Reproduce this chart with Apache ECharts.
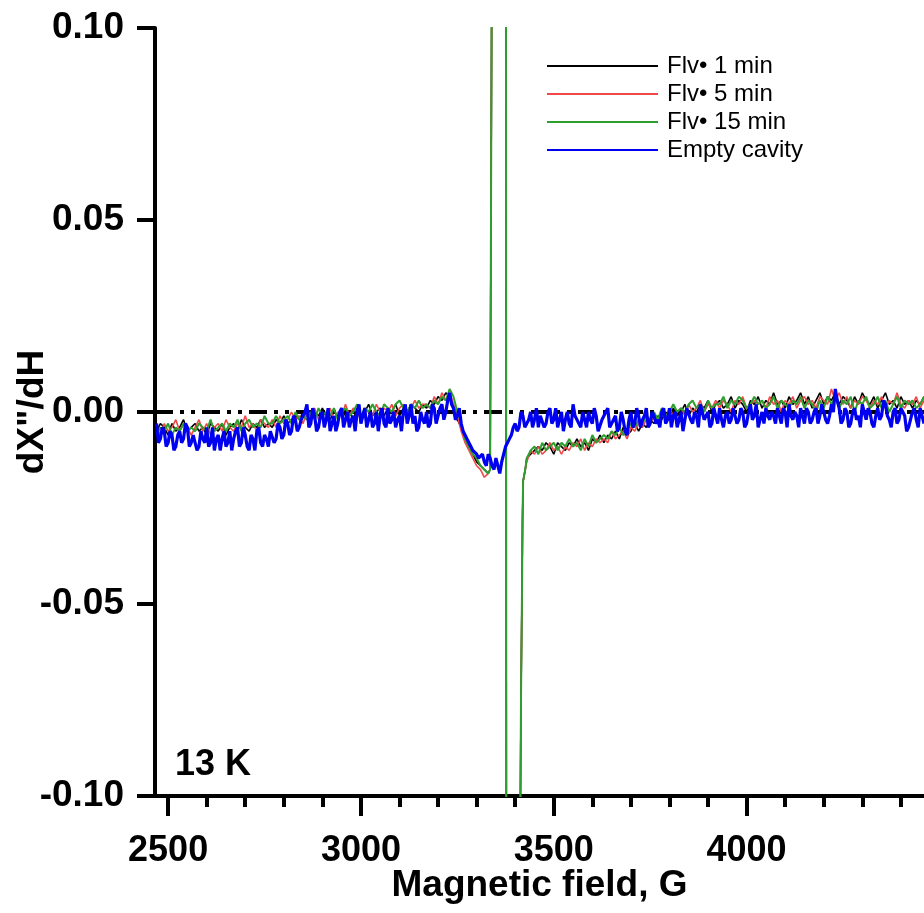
<!DOCTYPE html>
<html><head><meta charset="utf-8">
<script src="https://cdn.jsdelivr.net/npm/echarts@6/dist/echarts.min.js"></script>
<style>html,body{margin:0;padding:0;background:#fff}#c{width:924px;height:913px}</style>
</head><body><div id="c"></div>
<script>
// ---- data (values in units of 1e-3) ----
const FIELD_START = 2470, FIELD_STEP = 10;      // sampling grid of the full sweep (G)
const FIELD_MID_START = 2475;                   // half-step samples of the empty-cavity trace
const FLV_LEFT_START = 2470, FLV_RIGHT_START = 3430;

const blueMilli = [
 -3,-7,-5,-8,-6,-9,-5,-7,-4,-8,
 -6,-9,-7,-4,-8,-10,-6,-7,-9,-5,
 -7,-4,-8,-6,-10,-7,-5,-8,-6,-9,
 -5,-7,-4,-6,-3,-5,-2,-4,-1,2,
 -3,-1,-4,0,-2,-5,-1,-3,1,-2,
 -4,-1,0,-3,1,-2,-4,0,-1,-3,
 1,-2,-4,-1,0,-3,2,-1,-4,-2,
 0,-3,1,-1,2,0,5,1,-1,-3,
 -6,-8,-10,-11,-12,-13,-11,-14,-12,-16,
 -11,-8,-6,-3,-4,-1,-3,0,-2,-4,
 -1,-3,1,-2,-4,0,-2,-3,2,-1,
 -4,-2,0,-3,-1,-5,-2,1,-3,-1,
 -4,-2,-6,0,-3,-1,-2,1,-3,-1,
 -2,0,-3,1,-1,-4,0,-2,1,-3,
 -1,2,-2,0,-3,-1,1,-4,0,-2,
 1,-2,0,-3,2,-1,-4,0,1,-2,
 -1,1,-3,0,2,-2,-1,1,-3,0,
 -2,1,-1,0,-3,2,6,1,-2,0,
 -3,1,-1,2,-2,0,-4,1,-1,2,
 -2,0,-3,1,-1,-4,0,-2,1,-3
];
const blueMidMilli = [
 -8,-4,-9,-5,-10,-6,-8,-3,-9,-6,
 -10,-5,-8,-9,-4,-7,-10,-5,-8,-10,
 -5,-9,-4,-9,-6,-10,-4,-9,-7,-5,
 -8,-3,-7,-2,-6,-1,-5,-2,0,-4,
 1,-5,-1,-4,1,-3,-5,0,-4,0,
 -2,-5,2,-1,-4,0,-3,-5,1,-4,
 -3,0,-2,-5,2,-1,-3,-5,0,-3,
 -4,2,-3,1,-2,3,2,-2,1,-5,
 -7,-9,-10,-12,-11,-14,-12,-15,-14,-13,
 -9,-7,-4,-5,0,-4,-2,-4,1,-1,
 -4,0,-3,1,-2,-5,0,-4,-1,-3,
 0,-4,-2,1,-5,-2,0,-4,-2,-5,
 0,-5,-2,-4,1,-4,-1,-4,0,-3,
 -4,1,-2,-4,0,-2,-5,1,-2,0,
 -4,0,-1,-4,1,-3,-2,-1,-3,1,
 -3,1,-4,0,-2,2,-2,-3,-1,0,
 -3,-1,1,-4,-1,0,-4,-1,1,-3,
 0,-3,2,-2,-1,0,3,-3,1,-4,
 0,-2,-4,0,1,-3,-1,-2,3,-1,
 -4,1,-2,0,-5,-2,1,-4,-1
];

const blackLeftMilli = [
 -5,-3,-4,-6,-3,-5,-4,-2,-5,-4,
 -3,-5,-4,-6,-3,-4,-5,-3,-6,-4,
 -3,-5,-2,-4,-5,-3,-4,-2,-4,-3,
 -4,-2,-3,-1,-3,-2,-1,-2,0,-1,
 -2,0,-1,1,-1,-2,0,-1,1,-1,
 0,-2,1,-1,0,2,-1,0,1,-1,
 1,0,2,-1,1,0,2,1,0,2,
 1,3,2,4,3,5,4,1,-2,-4,
 -7,-9,-11,-13,-14,-15
];
const blackRightMilli = [
 -12,-11,-10,-9,-10,-8,-9,-11,-8,-9,
 -10,-8,-9,-7,-9,-8,-10,-7,-8,-6,
 -8,-6,-7,-5,-7,-4,-6,-5,-3,-5,
 -3,-4,-2,-3,-1,-2,0,-1,1,-1,
 0,2,-1,1,0,2,1,3,0,2,
 3,1,2,4,1,3,2,0,3,2,
 4,1,3,2,5,2,3,1,4,2,
 3,5,2,4,1,3,5,2,4,3,
 5,2,4,3,1,4,2,5,3,2,
 4,1,3,5,2,3,1,4,2,3,
 1,3,2,4
];

const redLeftMilli = [
 -4,-6,-3,-5,-4,-2,-5,-3,-4,-6,
 -4,-2,-5,-3,-6,-4,-3,-5,-2,-4,
 -5,-3,-4,-1,-4,-3,-5,-2,-3,-4,
 -2,-4,-1,-3,-2,0,-2,-1,-3,0,
 -1,1,-2,0,-1,1,-2,0,-1,2,
 -1,1,0,-2,1,0,-1,2,0,1,
 0,2,-1,1,2,0,1,3,1,2,
 2,1,4,2,5,3,5,2,-1,-5,
 -8,-10,-12,-14,-15,-17
];
const redRightMilli = [
 -13,-10,-11,-9,-11,-10,-8,-10,-9,-11,
 -9,-10,-8,-9,-7,-10,-8,-9,-7,-8,
 -7,-8,-5,-7,-6,-5,-7,-4,-5,-3,
 -4,-2,-3,-1,-3,0,-2,1,-1,0,
 1,-1,2,0,1,3,0,2,1,3,
 1,3,2,0,3,2,4,1,2,3,
 2,3,1,4,2,3,0,3,2,4,
 1,3,4,2,3,1,4,3,2,6,
 3,5,2,4,1,3,2,4,3,1,
 3,2,4,1,3,2,5,2,1,3,
 2,4,1,3
];

const greenLeftMilli = [
 -6,-4,-5,-3,-6,-4,-5,-3,-5,-4,
 -5,-3,-4,-5,-2,-5,-4,-3,-5,-3,
 -4,-2,-5,-3,-2,-4,-3,-4,-1,-3,
 -3,-1,-3,-2,-1,-3,0,-2,-1,-2,
 0,-2,1,-1,0,-1,1,-2,0,1,
 -1,0,2,-1,1,0,2,0,-1,2,
 1,0,2,3,1,0,2,1,3,1,
 2,1,3,2,4,3,6,4,0,-3,
 -7,-9,-11,-12,-14,-15
];
const greenRightMilli = [
 -12,-10,-9,-11,-8,-10,-9,-8,-10,-8,
 -9,-7,-9,-8,-10,-7,-9,-6,-8,-7,
 -6,-7,-5,-6,-4,-6,-5,-3,-4,-2,
 -3,-1,-2,0,-2,1,-1,0,2,0,
 1,0,2,3,1,2,0,3,1,2,
 2,4,1,3,2,4,3,1,2,4,
 2,3,1,2,4,1,3,2,1,3,
 2,4,1,3,2,0,3,1,4,2,
 4,1,3,2,4,0,3,2,4,1,
 2,4,1,3,0,2,4,1,3,2,
 3,1,2,4
];

// central resonance of the Flv samples (goes far off scale, clipped by the axis)
const flvSignalField = [3330, 3335, 3339.5, 3345, 3376, 3377, 3395, 3412.5, 3415, 3417.5, 3419, 3420.5, 3426];
const flvSignalMilli = [-16, -15, 120, 400, 120, -120, -400, -120, -75, -48, -28, -18, -15];

const seriesNames = ['Flv\u2022 1 min', 'Flv\u2022 5 min', 'Flv\u2022 15 min', 'Empty cavity'];
const seriesColors = ['#000000', '#f04848', '#2e9e2e', '#0000f0'];
const majorTicks = [2500, 3000, 3500, 4000];
const minorTicks = [2600,2700,2800,2900,3100,3200,3300,3400,3600,3700,3800,3900,4100,4200,4300,4400];
const yTicks = { min: -0.1, max: 0.1, interval: 0.05 };
const X_MIN = 2466, X_MAX = 4460;

// ---- build ----
const toVal = m => m / 1000;
function grid(start, arr) { return arr.map((v, i) => [start + i * FIELD_STEP, toVal(v)]); }
function flv(left, right) {
  return grid(FLV_LEFT_START, left)
    .concat(flvSignalField.map((x, i) => [x, toVal(flvSignalMilli[i])]))
    .concat(grid(FLV_RIGHT_START, right));
}
const blueData = grid(FIELD_START, blueMilli).concat(grid(FIELD_MID_START, blueMidMilli))
  .sort((a, b) => a[0] - b[0]);

const FONT = '"Liberation Sans", Arial, sans-serif';
const chart = echarts.init(document.getElementById('c'), null, { renderer: 'canvas' });
const lineSeries = (name, data, color, width) => ({
  name, type: 'line', data, symbol: 'none', showSymbol: false, clip: true,
  lineStyle: { color, width }, itemStyle: { color }, emphasis: { disabled: true }, animation: false
});
chart.setOption({
  animation: false,
  grid: { left: 155, right: 0, top: 28, bottom: 117, containLabel: false, outerBoundsMode: 'none' },
  legend: {
    data: seriesNames, orient: 'vertical', left: 546, top: 54, padding: 0,
    itemWidth: 111, itemHeight: 14, itemGap: 4,
    itemStyle: { opacity: 0 },
    textStyle: { fontFamily: FONT, fontSize: 24, lineHeight: 23, color: '#000', padding: [0, 0, 0, 4] }
  },
  xAxis: [{
    type: 'value', min: X_MIN, max: X_MAX,
    axisLine: { show: true, onZero: false, lineStyle: { color: '#000', width: 4 } },
    axisTick: { show: true, length: 20, customValues: majorTicks, lineStyle: { color: '#000', width: 4 } },
    axisLabel: { customValues: majorTicks, formatter: v => String(v), fontFamily: FONT, fontSize: 36, fontWeight: 'bold', color: '#000', margin: 37, verticalAlign: 'top' },
    splitLine: { show: false },
    name: 'Magnetic field, G', nameLocation: 'middle', nameGap: 71, nameMoveOverlap: false,
    nameTextStyle: { fontFamily: FONT, fontSize: 37, fontWeight: 'bold', color: '#000' }
  }, {
    type: 'value', min: X_MIN, max: X_MAX, position: 'bottom',
    axisLine: { show: false, onZero: false },
    axisTick: { show: true, length: 11, customValues: minorTicks, lineStyle: { color: '#000', width: 4 } },
    axisLabel: { show: false }, splitLine: { show: false }
  }],
  yAxis: {
    type: 'value', min: yTicks.min, max: yTicks.max, interval: yTicks.interval,
    axisLine: { show: true, onZero: false, lineStyle: { color: '#000', width: 4 } },
    axisTick: { show: true, length: 18, lineStyle: { color: '#000', width: 4 } },
    axisLabel: { formatter: v => v.toFixed(2), fontFamily: FONT, fontSize: 37, fontWeight: 'bold', color: '#000', margin: 31 },
    splitLine: { show: false },
    name: 'dX"/dH', nameLocation: 'middle', nameGap: 104, nameRotate: 90, nameMoveOverlap: false,
    nameTextStyle: { fontFamily: FONT, fontSize: 37, fontWeight: 'bold', color: '#000' }
  },
  graphic: [{
    type: 'text', left: 175, top: 747,
    style: { text: '13 K', font: 'bold 36px ' + FONT, fill: '#000' }
  }],
  series: [
    { name: 'zero', type: 'line', data: [[X_MIN, 0], [X_MAX, 0]], symbol: 'none', silent: true,
      lineStyle: { color: '#000', width: 4, type: [18, 7, 4, 7, 4, 7] } },
    lineSeries(seriesNames[0], flv(blackLeftMilli, blackRightMilli), seriesColors[0], 1.6),
    lineSeries(seriesNames[1], flv(redLeftMilli, redRightMilli), seriesColors[1], 1.6),
    lineSeries(seriesNames[2], flv(greenLeftMilli, greenRightMilli), seriesColors[2], 2),
    lineSeries(seriesNames[3], blueData, seriesColors[3], 3.2)
  ]
});
</script></body></html>
